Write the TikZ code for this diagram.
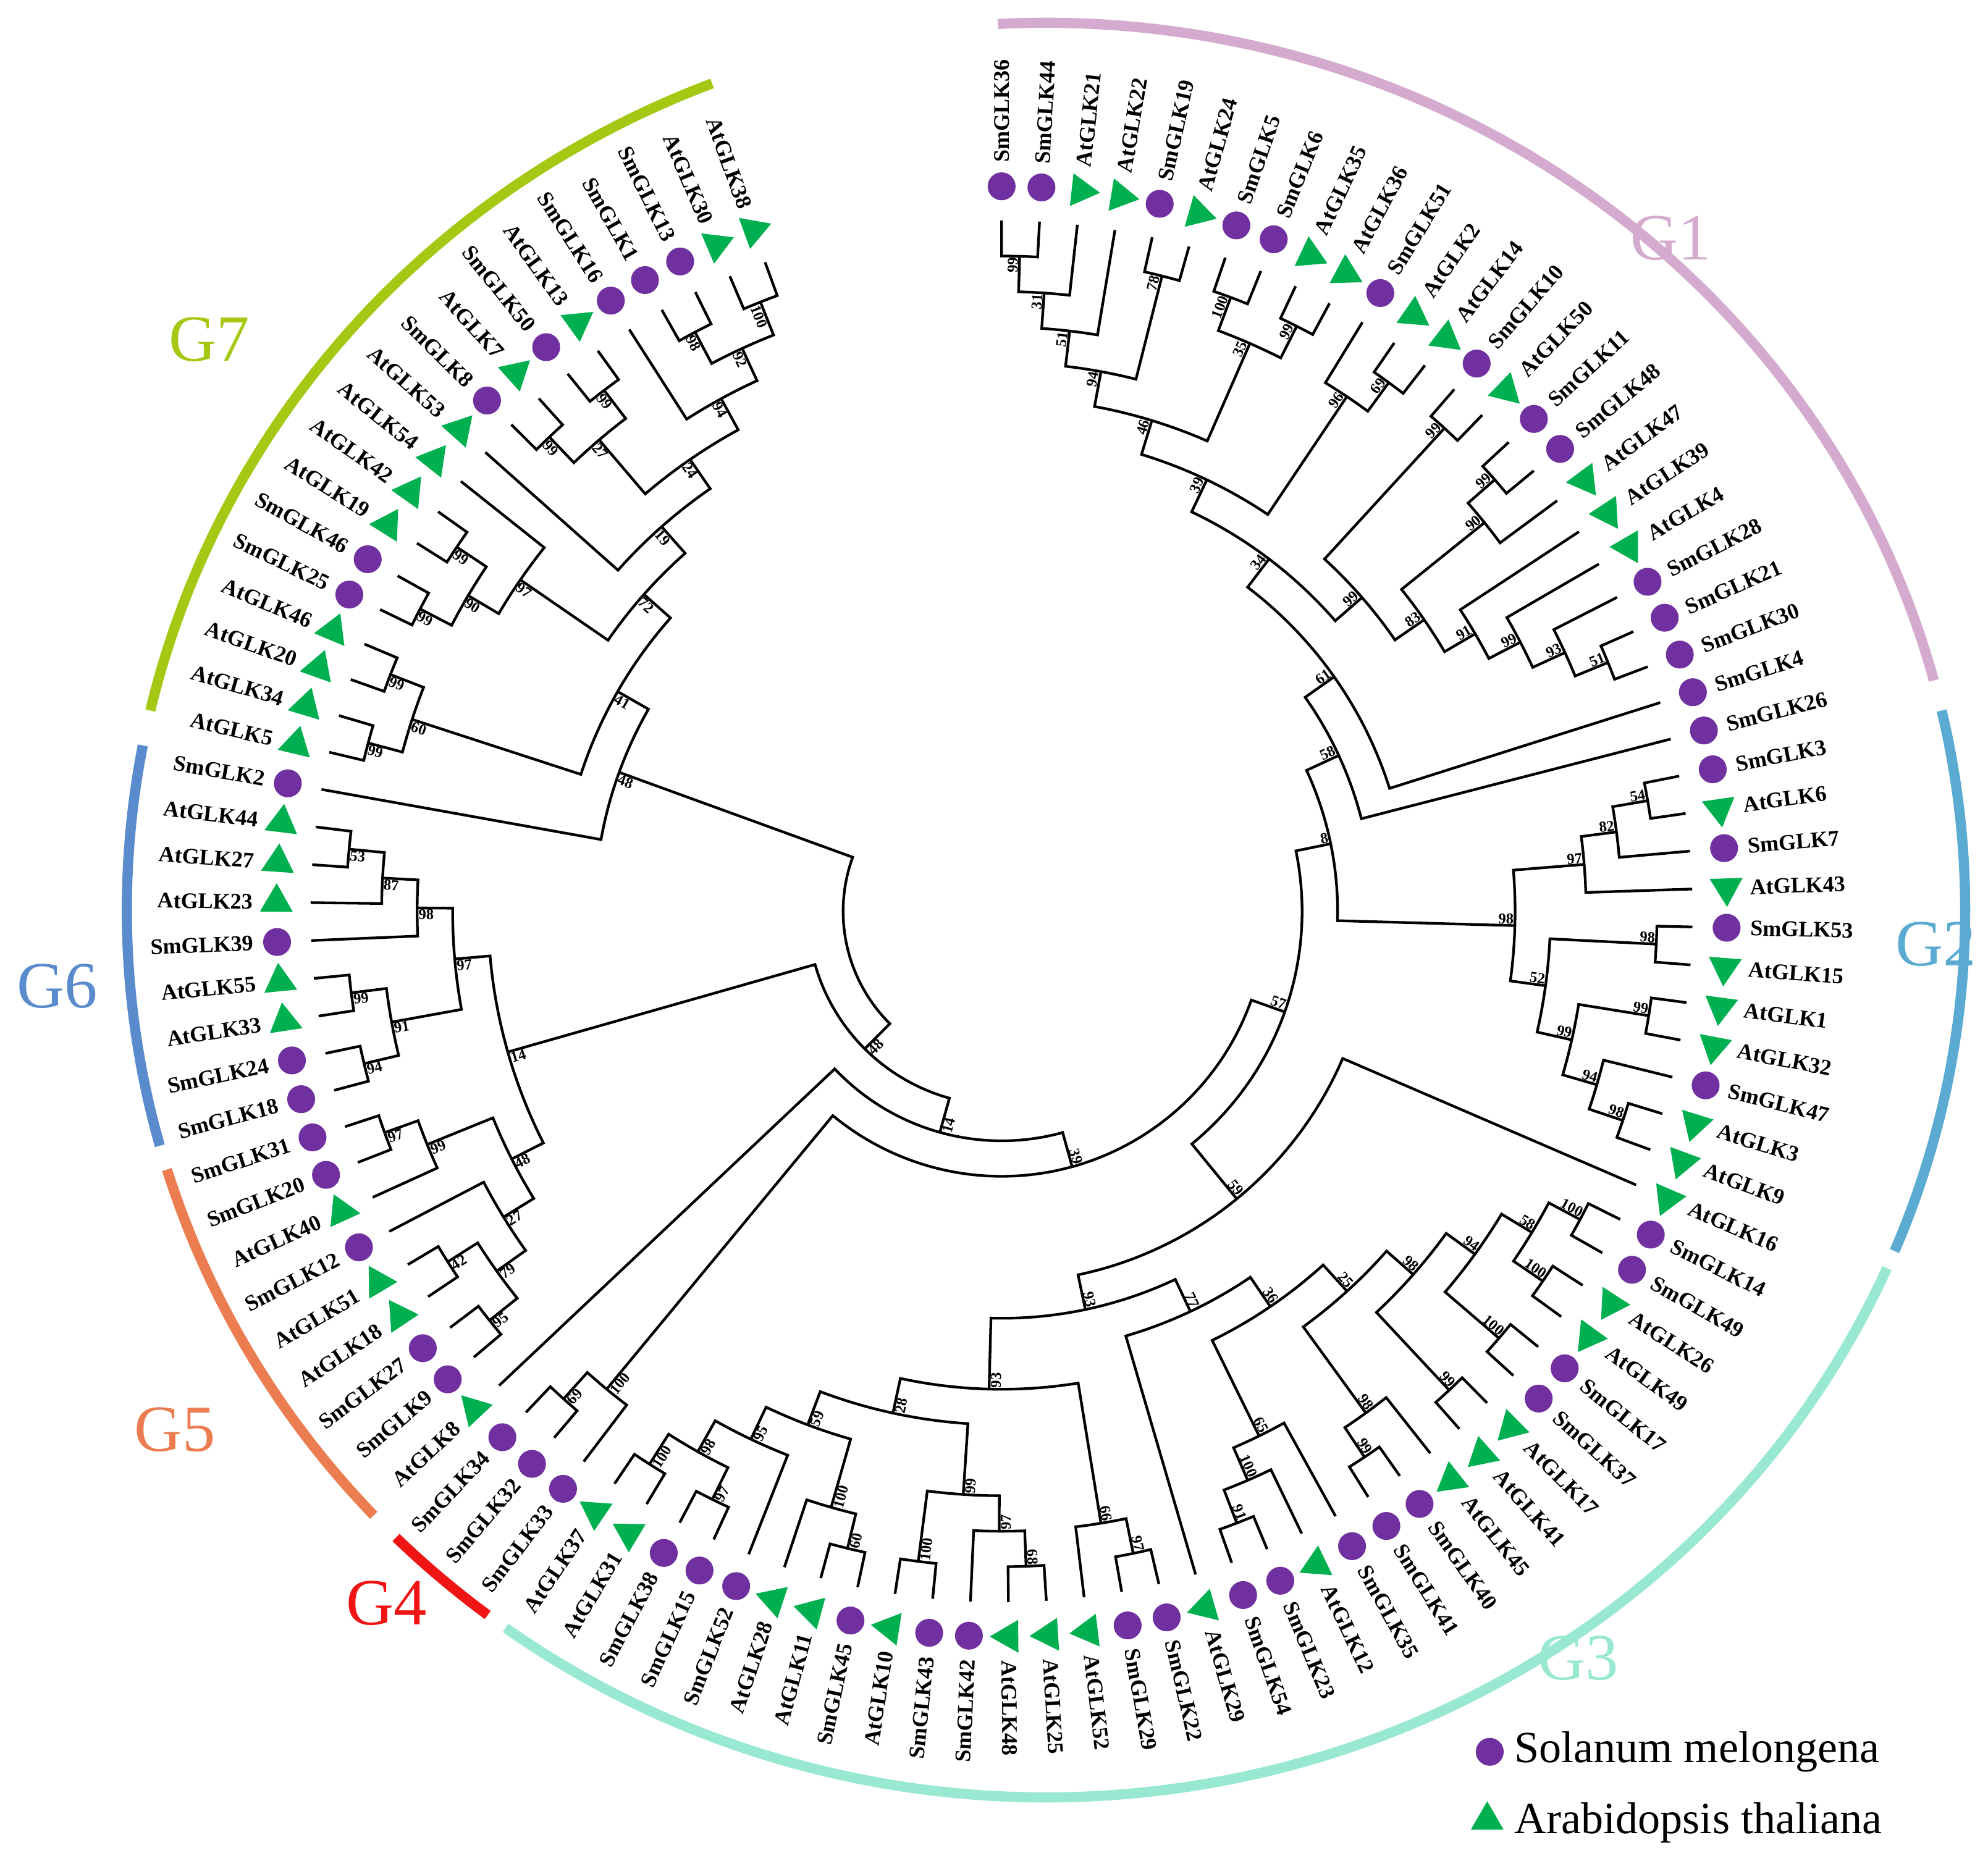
\documentclass[tikz,border=0pt]{standalone}
\usepackage{fontspec}
\setmainfont{Liberation Serif}
\usetikzlibrary{shapes.geometric}
\definecolor{smc}{HTML}{7030A0}
\definecolor{atc}{HTML}{00B050}
\definecolor{cg1}{HTML}{D4AACF}
\definecolor{cg2}{HTML}{5AAAD2}
\definecolor{cg3}{HTML}{98E8D2}
\definecolor{cg4}{HTML}{F01414}
\definecolor{cg5}{HTML}{EB7D50}
\definecolor{cg6}{HTML}{5A8CCD}
\definecolor{cg7}{HTML}{A5C814}
\def\rtip{545}\def\rmark{572}\def\rlab{590}
\def\gA#1{\csname A@#1\endcsname}
\def\gR#1{\csname R@#1\endcsname}
\def\gH#1{\csname H@#1\endcsname}
\newcommand\sideof[1]{\pgfmathsetmacro\nrm{mod(mod(#1,360)+360,360)}\pgfmathtruncatemacro\isleft{and(\nrm>90,\nrm<270)}}
\newcommand\leaf[3]{%
 \pgfmathsetmacro\lAng{90-3.148*#1}%
 \expandafter\xdef\csname A@#1\endcsname{\lAng}%
 \expandafter\xdef\csname R@#1\endcsname{\rtip}%
 \expandafter\xdef\csname H@#1\endcsname{0}%
 \ifx S#2\fill[smc] (\lAng:\rmark) circle[radius=11];\def\pre{SmGLK}%
 \else\node[tri,rotate=\lAng-180] (mk#1) at (\lAng:\rmark) {};\def\pre{AtGLK}\fi
 \sideof{\lAng}%
 \ifnum\isleft=1 \node[leaflab,rotate=\lAng+180,anchor=east] (lab#1) at (\lAng:\rlab) {\pre#3};%
 \else\node[leaflab,rotate=\lAng,anchor=west] (lab#1) at (\lAng:\rlab) {\pre#3};\fi}
\newcommand\clade[4]{%
 \pgfmathtruncatemacro\cHt{max(\gH{#2},\gH{#3})+1}%
 \pgfmathsetmacro\cRad{\rtip-28*\cHt}%
 \pgfmathsetmacro\cAng{(\gA{#2}+\gA{#3})/2}%
 \draw[br] (\gA{#2}:\gR{#2}) -- (\gA{#2}:\cRad) arc[start angle=\gA{#2}, end angle=\gA{#3}, radius=\cRad] -- (\gA{#3}:\gR{#3});
 \expandafter\xdef\csname A@#1\endcsname{\cAng}%
 \expandafter\xdef\csname R@#1\endcsname{\cRad}%
 \expandafter\xdef\csname H@#1\endcsname{\cHt}%
 \coordinate (n#1) at (\cAng:\cRad);
 \if\relax\detokenize{#4}\relax\else
 \sideof{\cAng}%
 \ifnum\isleft=1 \node[bs,rotate=\cAng+180,anchor=north west] (b#1) at (\cAng:\cRad) {#4};%
 \else\node[bs,rotate=\cAng,anchor=south east] (b#1) at (\cAng:\cRad) {#4};\fi\fi}
\tikzset{
 br/.style={line width=1.05mm,black,line join=miter},
 tri/.style={regular polygon,regular polygon sides=3,fill=atc,minimum size=15mm,inner sep=0pt},
 leaflab/.style={font=\fontsize{25}{25}\selectfont\bfseries,inner sep=1pt},
 bs/.style={font=\fontsize{17}{17}\selectfont\bfseries,inner sep=1.5pt},
 grp/.style={line width=4mm},
 glab/.style={font=\fontsize{74}{74}\selectfont},
 leg/.style={font=\fontsize{50}{50}\selectfont,anchor=west}
}
\begin{document}
\begin{tikzpicture}[x=0.5mm,y=0.5mm]
\useasboundingbox (0,0) rectangle (1568,1474);
\fill[white] (0,0) rectangle (1568,1474);
\begin{scope}[shift={(825,756)}]
\draw[grp,cg1] (93:725 and 700) arc[start angle=93,end angle=15,x radius=725,y radius=700];
\draw[grp,cg2] (13:725 and 700) arc[start angle=13,end angle=-22.6,x radius=725,y radius=700];
\draw[grp,cg3] (-23.8:725 and 700) arc[start angle=-23.8,end angle=-126,x radius=725,y radius=700];
\draw[grp,cg4] (-127.4:725 and 700) arc[start angle=-127.4,end angle=-135,x radius=725,y radius=700];
\draw[grp,cg5] (-137:725 and 700) arc[start angle=-137,end angle=-163,x radius=725,y radius=700];
\draw[grp,cg6] (-164.6:725 and 700) arc[start angle=-164.6,end angle=-190.7,x radius=725,y radius=700];
\draw[grp,cg7] (-193:725 and 700) arc[start angle=-193,end angle=-248.7,x radius=725,y radius=700];
\end{scope}
\node[glab,cg1] (G1) at (1318,1286) {G1};
\node[glab,cg2] (G2) at (1527,729) {G2};
\node[glab,cg3] (G3) at (1245,166) {G3};
\node[glab,cg4] (G4) at (305,209) {G4};
\node[glab,cg5] (G5) at (138,346) {G5};
\node[glab,cg6] (G6) at (45,696) {G6};
\node[glab,cg7] (G7) at (165,1206) {G7};
\fill[smc] (1175,92) circle[radius=11];
\node[leg] (l1) at (1192,92) {Solanum melongena};
\node[tri] (l2m) at (1173,38) {};
\node[leg] (l2) at (1192,36) {Arabidopsis thaliana};
\begin{scope}[shift={(790,755)}]
\leaf{0}{S}{36}\leaf{1}{S}{44}\leaf{2}{A}{21}\leaf{3}{A}{22}\leaf{4}{S}{19}\leaf{5}{A}{24}
\leaf{6}{S}{5}\leaf{7}{S}{6}\leaf{8}{A}{35}\leaf{9}{A}{36}\leaf{10}{S}{51}\leaf{11}{A}{2}
\leaf{12}{A}{14}\leaf{13}{S}{10}\leaf{14}{A}{50}\leaf{15}{S}{11}\leaf{16}{S}{48}\leaf{17}{A}{47}
\leaf{18}{A}{39}\leaf{19}{A}{4}\leaf{20}{S}{28}\leaf{21}{S}{21}\leaf{22}{S}{30}\leaf{23}{S}{4}
\leaf{24}{S}{26}\leaf{25}{S}{3}\leaf{26}{A}{6}\leaf{27}{S}{7}\leaf{28}{A}{43}\leaf{29}{S}{53}
\leaf{30}{A}{15}\leaf{31}{A}{1}\leaf{32}{A}{32}\leaf{33}{S}{47}\leaf{34}{A}{3}\leaf{35}{A}{9}
\leaf{36}{A}{16}\leaf{37}{S}{14}\leaf{38}{S}{49}\leaf{39}{A}{26}\leaf{40}{A}{49}\leaf{41}{S}{17}
\leaf{42}{S}{37}\leaf{43}{A}{17}\leaf{44}{A}{41}\leaf{45}{A}{45}\leaf{46}{S}{40}\leaf{47}{S}{41}
\leaf{48}{S}{35}\leaf{49}{A}{12}\leaf{50}{S}{23}\leaf{51}{S}{54}\leaf{52}{A}{29}\leaf{53}{S}{22}
\leaf{54}{S}{29}\leaf{55}{A}{52}\leaf{56}{A}{25}\leaf{57}{A}{48}\leaf{58}{S}{42}\leaf{59}{S}{43}
\leaf{60}{A}{10}\leaf{61}{S}{45}\leaf{62}{A}{11}\leaf{63}{A}{28}\leaf{64}{S}{52}\leaf{65}{S}{15}
\leaf{66}{S}{38}\leaf{67}{A}{31}\leaf{68}{A}{37}\leaf{69}{S}{33}\leaf{70}{S}{32}\leaf{71}{S}{34}
\leaf{72}{A}{8}\leaf{73}{S}{9}\leaf{74}{S}{27}\leaf{75}{A}{18}\leaf{76}{A}{51}\leaf{77}{S}{12}
\leaf{78}{A}{40}\leaf{79}{S}{20}\leaf{80}{S}{31}\leaf{81}{S}{18}\leaf{82}{S}{24}\leaf{83}{A}{33}
\leaf{84}{A}{55}\leaf{85}{S}{39}\leaf{86}{A}{23}\leaf{87}{A}{27}\leaf{88}{A}{44}\leaf{89}{S}{2}
\leaf{90}{A}{5}\leaf{91}{A}{34}\leaf{92}{A}{20}\leaf{93}{A}{46}\leaf{94}{S}{25}\leaf{95}{S}{46}
\leaf{96}{A}{19}\leaf{97}{A}{42}\leaf{98}{A}{54}\leaf{99}{A}{53}\leaf{100}{S}{8}\leaf{101}{A}{7}
\leaf{102}{S}{50}\leaf{103}{A}{13}\leaf{104}{S}{16}\leaf{105}{S}{1}\leaf{106}{S}{13}\leaf{107}{A}{30}
\leaf{108}{A}{38}
\clade{g1a}{0}{1}{99}\clade{g1b}{g1a}{2}{31}\clade{g1c}{g1b}{3}{51}\clade{g1d}{4}{5}{78}
\clade{g1e}{g1c}{g1d}{94}\clade{g1f}{6}{7}{100}\clade{g1g}{8}{9}{99}\clade{g1h}{g1f}{g1g}{35}
\clade{g1i}{g1e}{g1h}{46}\clade{g1j}{11}{12}{69}\clade{g1k}{10}{g1j}{96}\clade{g1n}{g1i}{g1k}{39}
\clade{g1l}{13}{14}{99}\clade{g1p}{15}{16}{99}\clade{g1q}{g1p}{17}{90}\clade{g1r}{21}{22}{51}
\clade{g1s}{20}{g1r}{93}\clade{g1t}{19}{g1s}{99}\clade{g1u}{18}{g1t}{91}\clade{g1v}{g1q}{g1u}{83}
\clade{g1m}{g1l}{g1v}{99}\clade{g1}{g1n}{g1m}{34}\clade{n61}{g1}{23}{61}\clade{n58}{n61}{24}{58}
\clade{g2a}{25}{26}{54}\clade{g2b}{g2a}{27}{82}\clade{g2c}{g2b}{28}{97}\clade{g2y}{29}{30}{98}
\clade{g2z}{31}{32}{99}\clade{g2x}{34}{35}{98}\clade{g2w}{33}{g2x}{94}\clade{g2v}{g2z}{g2w}{99}
\clade{g2u}{g2y}{g2v}{52}\clade{g2}{g2c}{g2u}{98}\clade{n8}{n58}{g2}{8}
\clade{c1}{37}{38}{100}\clade{c2}{39}{40}{100}\clade{c3}{c1}{c2}{58}\clade{c4}{41}{42}{100}
\clade{c5}{c3}{c4}{94}\clade{c6}{43}{44}{99}\clade{c7}{c5}{c6}{98}\clade{c8}{46}{47}{99}
\clade{c9}{45}{c8}{98}\clade{c10}{c7}{c9}{25}\clade{c11}{50}{51}{91}\clade{c12}{49}{c11}{100}
\clade{c13}{48}{c12}{65}\clade{c14}{c10}{c13}{36}\clade{c15}{c14}{52}{77}\clade{c16}{53}{54}{97}
\clade{c17}{c16}{55}{66}\clade{c18}{56}{57}{68}\clade{c19}{c18}{58}{97}\clade{c20}{59}{60}{100}
\clade{c21}{c19}{c20}{99}\clade{c22}{61}{62}{60}\clade{c23}{c22}{63}{100}\clade{c24}{65}{66}{97}
\clade{c25}{67}{68}{100}\clade{c26}{c24}{c25}{98}\clade{c27}{64}{c26}{95}\clade{c28}{c23}{c27}{59}
\clade{c29}{c21}{c28}{28}\clade{c30}{c17}{c29}{93}\clade{c31}{c15}{c30}{93}\clade{g3}{36}{c31}{59}
\clade{n57}{n8}{g3}{57}
\clade{d1}{70}{71}{69}\clade{d2}{69}{d1}{100}\clade{n39}{n57}{d2}{39}\clade{n14}{n39}{72}{14}
\clade{e1}{73}{74}{95}\clade{e2}{75}{76}{42}\clade{e3}{e1}{e2}{79}\clade{e4}{e3}{77}{27}
\clade{e5}{79}{80}{97}\clade{e6}{78}{e5}{99}\clade{e7}{e4}{e6}{48}
\clade{f1}{81}{82}{94}\clade{f2}{83}{84}{99}\clade{f3}{f1}{f2}{91}\clade{f4}{87}{88}{53}
\clade{f5}{86}{f4}{87}\clade{f6}{85}{f5}{98}\clade{f7}{f3}{f6}{97}\clade{n14o}{e7}{f7}{14}
\clade{n48}{n14}{n14o}{48}
\clade{h1}{90}{91}{99}\clade{h2}{92}{93}{99}\clade{h3}{h1}{h2}{60}\clade{h4}{94}{95}{99}
\clade{h5}{96}{97}{99}\clade{h6}{h4}{h5}{90}\clade{h7}{h6}{98}{97}\clade{h8}{100}{101}{99}
\clade{h9}{102}{103}{99}\clade{h10}{h8}{h9}{27}\clade{h11}{105}{106}{98}\clade{h12}{107}{108}{100}
\clade{h13}{h11}{h12}{92}\clade{h14}{104}{h13}{94}\clade{h15}{h10}{h14}{24}\clade{h16}{99}{h15}{19}
\clade{h17}{h7}{h16}{72}\clade{h18}{h3}{h17}{41}\clade{n48o}{89}{h18}{48}
\clade{root}{n48}{n48o}{}
\end{scope}
\end{tikzpicture}
\end{document}
